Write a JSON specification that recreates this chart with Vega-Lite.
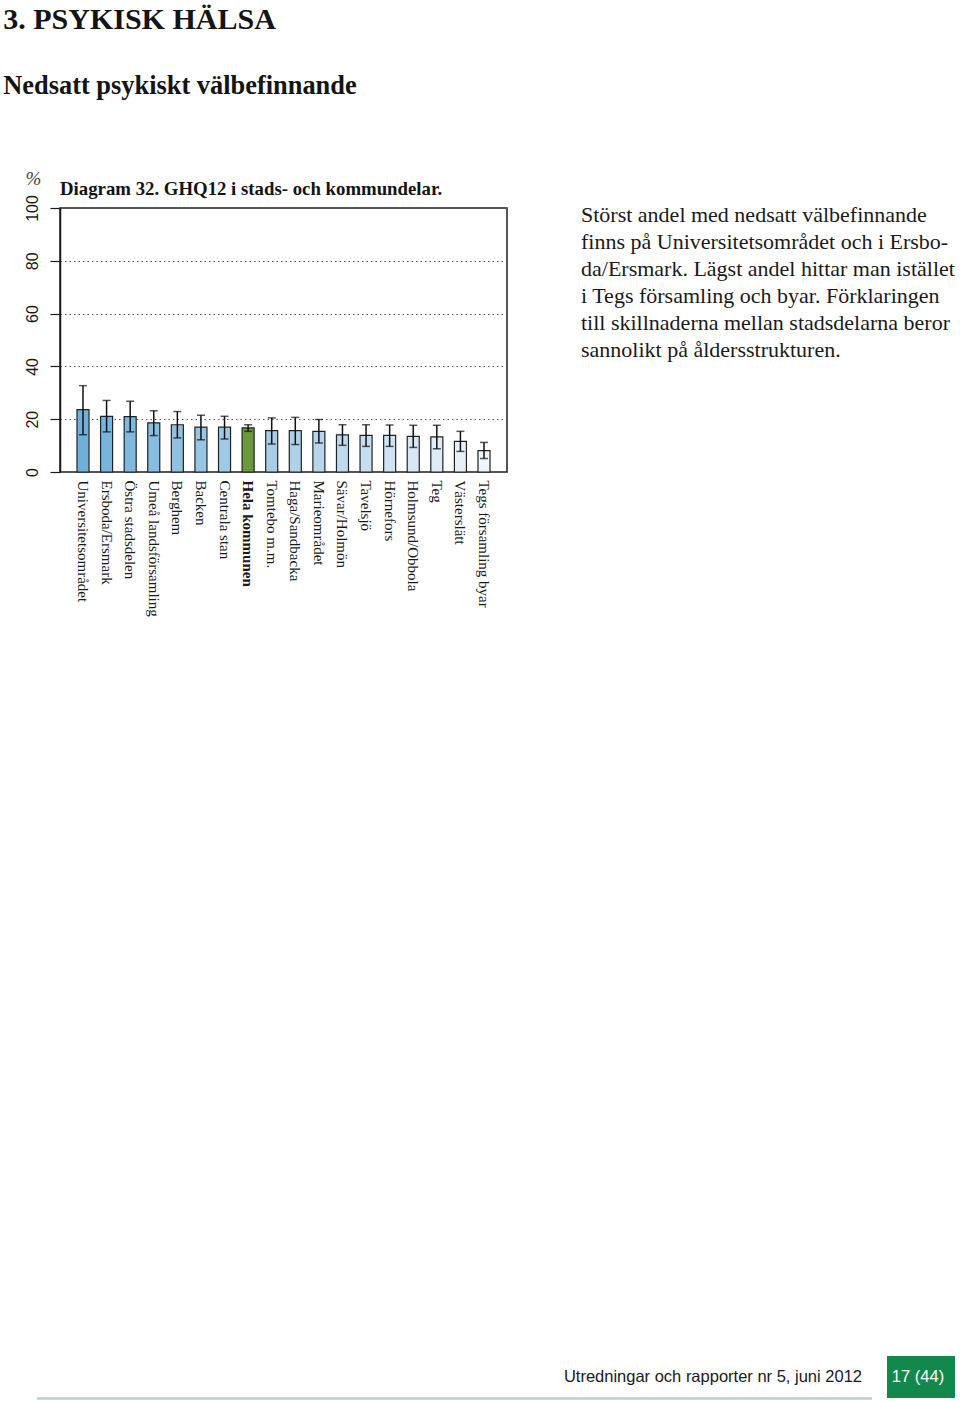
{
  "$schema": "https://vega.github.io/schema/vega-lite/v6.json",
  "background": "white",
  "padding": {"left": 3, "top": 4, "right": 0, "bottom": 0},
  "title": {
    "text": "3. PSYKISK HÄLSA",
    "subtitle": "Nedsatt psykiskt välbefinnande",
    "anchor": "start",
    "dx": -20,
    "font": "Liberation Serif",
    "fontSize": 30,
    "fontWeight": "bold",
    "color": "#141414",
    "subtitleFont": "Liberation Serif",
    "subtitleFontSize": 26.4,
    "subtitleFontWeight": "bold",
    "subtitleColor": "#141414",
    "subtitlePadding": 38,
    "offset": 69
  },
  "config": {
    "view": {"stroke": null},
    "axis": {"labelColor": "#1a1a1a", "tickColor": "#1a1a1a", "domainColor": "#1a1a1a"}
  },
  "datasets": {
    "areas": [
      {"name": "Universitetsområdet", "value": 23.6, "lo": 14.1, "hi": 32.7},
      {"name": "Ersboda/Ersmark", "value": 21.1, "lo": 15.2, "hi": 27.1},
      {"name": "Östra stadsdelen", "value": 21.0, "lo": 15.2, "hi": 26.8},
      {"name": "Umeå landsförsamling", "value": 18.6, "lo": 13.8, "hi": 23.2},
      {"name": "Berghem", "value": 17.9, "lo": 12.9, "hi": 22.9},
      {"name": "Backen", "value": 17.0, "lo": 12.2, "hi": 21.5},
      {"name": "Centrala stan", "value": 17.0, "lo": 12.5, "hi": 21.1},
      {"name": "Hela kommunen", "value": 16.7, "lo": 15.4, "hi": 17.9},
      {"name": "Tomtebo m.m.", "value": 15.7, "lo": 10.6, "hi": 20.5},
      {"name": "Haga/Sandbacka", "value": 15.7, "lo": 10.4, "hi": 20.7},
      {"name": "Marieområdet", "value": 15.4, "lo": 11.0, "hi": 19.9},
      {"name": "Sävar/Holmön", "value": 14.1, "lo": 10.1, "hi": 17.9},
      {"name": "Tavelsjö", "value": 13.9, "lo": 9.7, "hi": 17.9},
      {"name": "Hörnefors", "value": 13.9, "lo": 9.7, "hi": 17.8},
      {"name": "Holmsund/Obbola", "value": 13.5, "lo": 9.3, "hi": 17.7},
      {"name": "Teg", "value": 13.3, "lo": 8.8, "hi": 17.7},
      {"name": "Västerslätt", "value": 11.6, "lo": 7.8, "hi": 15.4},
      {"name": "Tegs församling byar", "value": 8.1, "lo": 5.1, "hi": 11.2}
    ],
    "para": [
      {"line": 1, "text": "Störst andel med nedsatt välbefinnande"},
      {"line": 2, "text": "finns på Universitetsområdet och i Ersbo-"},
      {"line": 3, "text": "da/Ersmark. Lägst andel hittar man istället"},
      {"line": 4, "text": "i Tegs församling och byar. Förklaringen"},
      {"line": 5, "text": "till skillnaderna mellan stadsdelarna beror"},
      {"line": 6, "text": "sannolikt på åldersstrukturen."}
    ]
  },
  "spacing": 739,
  "vconcat": [
    {
      "spacing": 73,
      "hconcat": [
        {
          "width": 447,
          "height": 264,
          "view": {"stroke": "#1f1f1f", "strokeWidth": 1.5},
          "title": {
            "text": "Diagram 32. GHQ12 i stads- och kommundelar.",
            "anchor": "start",
            "frame": "group",
            "font": "Liberation Serif",
            "fontSize": 18.8,
            "fontWeight": "bold",
            "color": "#141414",
            "offset": -30
          },
          "data": {"name": "areas"},
          "encoding": {
            "x": {
              "field": "name",
              "type": "nominal",
              "sort": null,
              "title": null,
              "scale": {"paddingInner": 0.49, "paddingOuter": 0.72},
              "axis": {
                "labelAngle": 90,
                "ticks": false,
                "domain": false,
                "labelFont": "Liberation Serif",
                "labelFontSize": 15,
                "labelPadding": 8,
                "labelLimit": 0,
                "labelFontWeight": {"condition": {"test": "datum.value === 'Hela kommunen'", "value": "bold"}, "value": "normal"}
              }
            }
          },
          "layer": [
            {
              "mark": {"type": "bar", "stroke": "#222222", "strokeWidth": 1.2},
              "encoding": {
                "y": {
                  "field": "value",
                  "type": "quantitative",
                  "title": "%",
                  "scale": {"domain": [0, 100], "nice": false},
                  "axis": {
                    "values": [0, 20, 40, 60, 80, 100],
                    "grid": true,
                    "gridDash": [1.5, 3],
                    "gridColor": "#555555",
                    "gridWidth": 1,
                    "tickSize": 10,
                    "tickWidth": 1.2,
                    "domainWidth": 1.5,
                    "labelAngle": -90,
                    "labelFont": "Liberation Sans",
                    "labelFontSize": 16,
                    "labelPadding": 10,
                    "titleAngle": 0,
                    "titleFont": "Liberation Serif",
                    "titleFontSize": 19,
                    "titleFontWeight": "normal",
                    "titleFontStyle": "italic",
                    "titleColor": "#444444",
                    "titleX": -27,
                    "titleY": -30,
                    "titleAlign": "center",
                    "titleBaseline": "middle"
                  }
                },
                "color": {
                  "field": "name",
                  "type": "nominal",
                  "legend": null,
                  "scale": {
                    "domain": ["Universitetsområdet", "Ersboda/Ersmark", "Östra stadsdelen", "Umeå landsförsamling", "Berghem", "Backen", "Centrala stan", "Hela kommunen", "Tomtebo m.m.", "Haga/Sandbacka", "Marieområdet", "Sävar/Holmön", "Tavelsjö", "Hörnefors", "Holmsund/Obbola", "Teg", "Västerslätt", "Tegs församling byar"],
                    "range": ["#6fb0da", "#77b5dc", "#7fb9de", "#87bde0", "#8fc2e2", "#97c6e4", "#9fcae6", "#6b9a3c", "#a7cee8", "#afd2ea", "#b7d6ec", "#bfdaee", "#c7def0", "#cfe3f2", "#d7e7f5", "#dfebf7", "#e7f0f9", "#eef5fb"]
                  }
                }
              }
            },
            {
              "mark": {"type": "rule", "color": "#111111", "strokeWidth": 1.5},
              "encoding": {
                "y": {"field": "lo", "type": "quantitative", "title": "%"},
                "y2": {"field": "hi"}
              }
            },
            {
              "mark": {"type": "tick", "color": "#111111", "size": 8, "thickness": 1.5},
              "encoding": {"y": {"field": "lo", "type": "quantitative", "title": "%"}}
            },
            {
              "mark": {"type": "tick", "color": "#111111", "size": 8, "thickness": 1.5},
              "encoding": {"y": {"field": "hi", "type": "quantitative", "title": "%"}}
            }
          ]
        },
        {
          "width": 380,
          "height": 161,
          "data": {"name": "para"},
          "mark": {"type": "text", "align": "left", "baseline": "middle", "font": "Liberation Serif", "fontSize": 22, "color": "#1a1a1a", "dy": -6},
          "encoding": {
            "y": {"field": "line", "type": "ordinal", "axis": null},
            "x": {"datum": 0, "type": "quantitative", "scale": {"domain": [0, 1]}, "axis": null},
            "text": {"field": "text"}
          }
        }
      ]
    },
    {
      "width": 900,
      "height": 44,
      "layer": [
        {
          "data": {"values": [{"part": "line"}]},
          "mark": {"type": "rule", "color": "#b8d3c6", "strokeWidth": 2.5},
          "encoding": {
            "x": {"datum": 37, "type": "quantitative", "scale": {"domain": [60, 960], "nice": false, "zero": false}, "axis": null},
            "x2": {"datum": 872},
            "y": {"datum": 1398.5, "type": "quantitative", "scale": {"domain": [1356, 1400], "nice": false, "zero": false, "reverse": true}, "axis": null}
          }
        },
        {
          "data": {"values": [{"part": "box"}]},
          "mark": {"type": "rect", "color": "#13884c"},
          "encoding": {
            "x": {"datum": 887, "type": "quantitative"},
            "x2": {"datum": 955},
            "y": {"datum": 1356, "type": "quantitative"},
            "y2": {"datum": 1398}
          }
        },
        {
          "data": {"values": [{"label": "Utredningar och rapporter nr 5, juni 2012"}]},
          "mark": {"type": "text", "align": "right", "baseline": "middle", "font": "Liberation Sans", "fontSize": 16.5, "color": "#1a1a1a"},
          "encoding": {
            "x": {"datum": 862, "type": "quantitative"},
            "y": {"datum": 1376.5, "type": "quantitative"},
            "text": {"field": "label"}
          }
        },
        {
          "data": {"values": [{"label": "17 (44)"}]},
          "mark": {"type": "text", "align": "center", "baseline": "middle", "font": "Liberation Sans", "fontSize": 16.5, "color": "white"},
          "encoding": {
            "x": {"datum": 918, "type": "quantitative"},
            "y": {"datum": 1376.5, "type": "quantitative"},
            "text": {"field": "label"}
          }
        }
      ]
    }
  ]
}
